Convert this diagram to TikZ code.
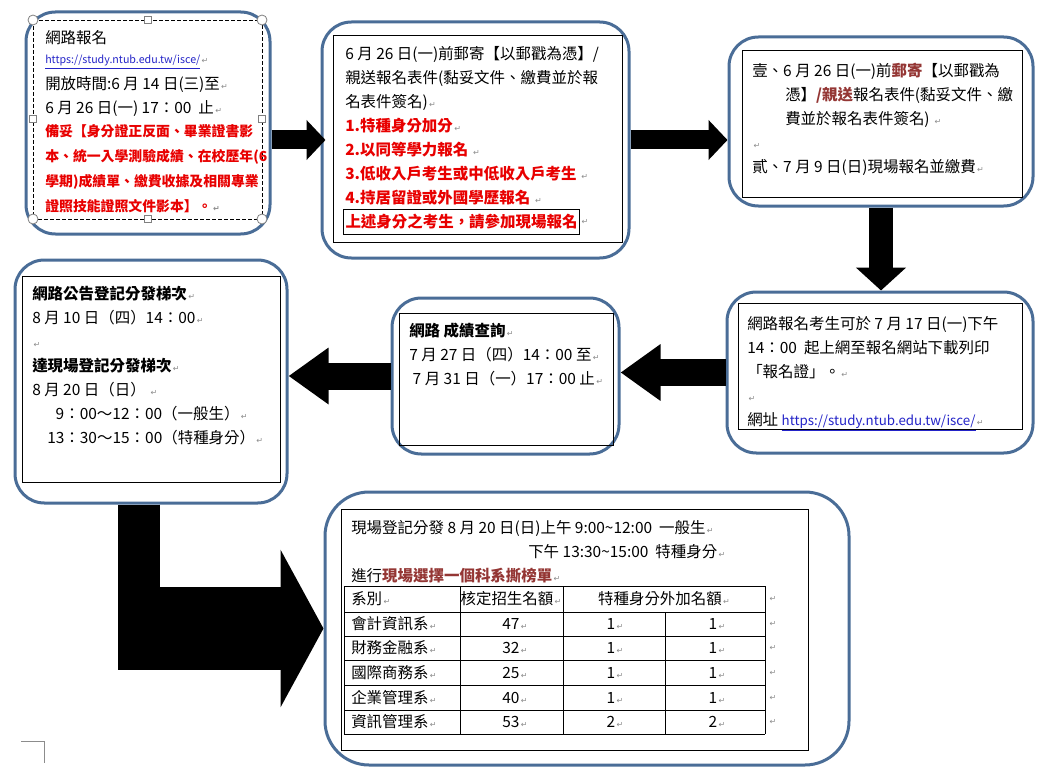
\documentclass[tikz,border=0pt]{standalone}
\usepackage{fontspec}
\setmainfont{Noto Sans CJK TC}
\newfontfamily\markfont{DejaVu Sans}
\usetikzlibrary{arrows.meta,fit}

\definecolor{boxblue}{HTML}{4A6D97}
\definecolor{hotred}{HTML}{E80000}
\definecolor{brick}{HTML}{943634}
\definecolor{linkblue}{HTML}{2424C8}
\definecolor{markgray}{HTML}{8C8C8C}

\newcommand\pmark{{\markfont\fontsize{6}{6}\selectfont\color{markgray}\,↵}}
\newcommand\weblink[1]{{\color{linkblue}\underline{#1}}}
\newcommand\bodysize{\fontsize{11.6}{18}\selectfont}

\tikzset{
  outerbox/.style={draw=boxblue, line width=2.25pt, rounded corners=22pt, fill=white, inner sep=0pt},
  frame/.style={draw=black, line width=0.75pt},
  selbox/.style={draw=black, line width=0.6pt, dash pattern=on 3pt off 1.5pt},
  rhandle/.style={circle, draw=gray, fill=white, line width=0.6pt, inner sep=0pt, minimum size=7.5pt},
  shandle/.style={rectangle, draw=gray, fill=white, line width=0.6pt, inner sep=0pt, minimum size=5.5pt},
  txt/.style={anchor=north west, inner sep=0pt, align=left, font=\bodysize},
  cell/.style={inner sep=0pt, font=\bodysize},
  barrow/.style={line width=14.25pt, -{Triangle[width=29.25pt,length=14.25pt]}},
  varrow/.style={line width=18pt, -{Triangle[width=36.75pt,length=17.25pt]}},
  larrow/.style={line width=20.25pt, -{Triangle[width=40.5pt,length=30pt]}}
}

\begin{document}
\begin{tikzpicture}[x=0.75pt,y=-0.75pt]
\useasboundingbox (0,0) rectangle (1045,781);

% rounded boxes
\node[outerbox, fit={(26,12) (270,234)}] (reg) {};
\node[outerbox, fit={(322,22) (629,258)}] (mail) {};
\node[outerbox, fit={(729,37) (1033,206)}] (post) {};
\node[outerbox, fit={(727,292) (1033,453)}] (print) {};
\node[outerbox, fit={(392,298) (619,454)}] (query) {};
\node[outerbox, fit={(15,260) (287,503)}] (plan) {};
\node[outerbox, rounded corners=33pt, fit={(325,492) (849,765)}] (fin) {};

% text frames
\draw[frame] (333,36) rectangle (622,242);
\draw[frame] (742,51) rectangle (1022,197);
\draw[frame] (738,303) rectangle (1022,429);
\draw[frame] (399,313) rectangle (613,445);
\draw[frame] (22,276) rectangle (280,482);
\draw[frame] (341,509) rectangle (808,750);

% selected text box
\draw[selbox] (33,20) rectangle (262,219);
\foreach \p [count=\i] in {(33,20),(262,20),(33,219),(262,219)}
  \node[rhandle] (rh\i) at \p {};
\foreach \p [count=\i] in {(148,20),(33,119),(262,119),(148,219)}
  \node[shandle] (sh\i) at \p {};

% box 1
\node[txt] (regtitle) at (45,30) {網路報名};
\node[txt, font=\fontsize{8}{10}\selectfont] (regurl) at (45,55) {\weblink{https://study.ntub.edu.tw/isce/}\pmark};
\node[txt] (regdate) at (45,76) {開放時間:6 月 14 日(三)至\pmark\\
6 月 26 日(一) 17：00 \ 止\pmark};
\node[txt, font=\fontsize{10.4}{18.75}\selectfont\bfseries\color{hotred}] (regdocs) at (45,124)
  {備妥【身分證正反面、畢業證書影\\
   本、統一入學測驗成績、在校歷年(6\\
   學期)成績單、繳費收據及相關專業\\
   證照技能證照文件影本】。\pmark};

% box 2
\node[txt] (mailtxt) at (345,46) {6 月 26 日(一)前郵寄【以郵戳為憑】/\\
親送報名表件(黏妥文件、繳費並於報\\
名表件簽名)\pmark\\
{\bfseries\color{hotred}1.特種身分加分}\pmark\\
{\bfseries\color{hotred}2.以同等學力報名} \pmark\\
{\bfseries\color{hotred}3.低收入戶考生或中低收入戶考生} \pmark\\
{\bfseries\color{hotred}4.持居留證或外國學歷報名} \pmark};
\node[frame, inner xsep=1.5pt, inner ysep=3.5pt, anchor=west, font=\bodysize] (mailnote) at (343,222)
  {\bfseries\color{hotred}上述身分之考生，請參加現場報名};
\node[anchor=west, inner sep=0pt] (notemark) at (mailnote.east) {\pmark};

% box 3
\node[txt] (posttxt) at (752,63) {壹、6 月 26 日(一)前{\bfseries\color{brick}郵寄}【以郵戳為\\
\hspace*{24.75pt}憑】{\bfseries\color{brick}/親送}報名表件(黏妥文件、繳\\
\hspace*{24.75pt}費並於報名表件簽名) \pmark\\
\pmark\\
貳、7 月 9 日(日)現場報名並繳費\pmark};

% box 4
\node[txt] (printtxt) at (747,316) {網路報名考生可於 7 月 17 日(一)下午\\
14：00 \ 起上網至報名網站下載列印\\
「報名證」。\pmark\\
\pmark\\
網址 {\fontsize{10}{18}\selectfont\weblink{https://study.ntub.edu.tw/isce/}}\pmark};

% box 5
\node[txt] (querytxt) at (409,323) {{\bfseries 網路 成績查詢}\pmark\\
7 月 27 日（四）14：00 至\pmark\\
\ 7 月 31 日（一）17：00 止\pmark};

% box 6
\node[txt] (plantxt) at (32,286) {{\bfseries 網路公告登記分發梯次}\pmark\\
8 月 10 日（四）14：00\pmark\\
\pmark\\
{\bfseries 達現場登記分發梯次}\pmark\\
8 月 20 日（日） \pmark\\
\hspace*{17.6pt}9：00～12：00（一般生）\pmark\\
\hspace*{11.25pt}13：30～15：00（特種身分）\pmark};

% box 7
\node[txt] (fintxt) at (351,520) {現場登記分發 8 月 20 日(日)上午 9:00\textasciitilde12:00 \ 一般生\pmark\\
\hspace*{132.75pt}下午 13:30\textasciitilde15:00 \ 特種身分\pmark\\
進行{\bfseries\color{brick}現場選擇一個科系撕榜單}\pmark};

% quota table
\foreach \y in {586,612,636,660,685,710,734}
  \draw[frame] (344,\y) -- (765,\y);
\foreach \x in {344,460,563,765}
  \draw[frame] (\x,586) -- (\x,734);
\draw[frame] (665,612) -- (665,734);
\node[cell, anchor=west] (hdept) at (351,599) {系別\pmark};
\node[cell] (hquota) at (511,599) {核定招生名額\pmark};
\node[cell] (hextra) at (664,599) {特種身分外加名額\pmark};
\node[cell, anchor=west] (hend) at (768,599) {\pmark};
\foreach \dept/\quota/\ea/\eb/\y [count=\i] in
  {會計資訊系/47/1/1/624, 財務金融系/32/1/1/648, 國際商務系/25/1/1/672.5,
   企業管理系/40/1/1/697.5, 資訊管理系/53/2/2/722}
{
  \node[cell, anchor=west] (dept\i) at (351,\y) {\dept\pmark};
  \node[cell] (quota\i) at (515,\y) {\quota\pmark};
  \node[cell] (extra\i) at (615,\y) {\ea\pmark};
  \node[cell] (extrb\i) at (717,\y) {\eb\pmark};
  \node[cell, anchor=west] (rowend\i) at (768,\y) {\pmark};
}

% block arrows
\draw[barrow] (reg.east |- mail.west) -- ([xshift=3.75pt]mail.west);
\draw[barrow] (mail.east) -- (mail.east -| post.west);
\draw[varrow] (post.south) -- (post.south |- print.north);
\draw[larrow] (print.west) -- (print.west -| query.east);
\draw[larrow] (query.west) -- (query.west -| plan.east);
\coordinate (lfoot) at (139,670);
\coordinate (lturn) at (118,628.5);
\draw[line width=31.5pt] (plan.south -| lfoot) -- (lfoot);
\draw[line width=62.25pt, -{Triangle[width=117pt,length=32.25pt]}] (lturn) -- (fin.west);

% page corner
\draw[markgray, line width=0.75pt] (21,741) -- (44,741) -- (44,763);
\end{tikzpicture}
\end{document}
